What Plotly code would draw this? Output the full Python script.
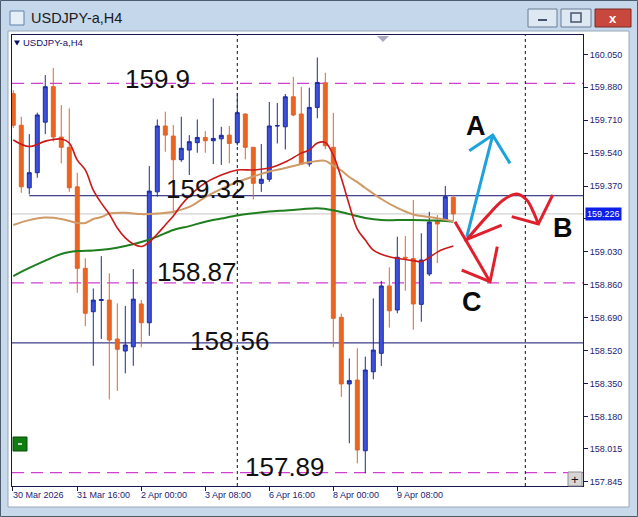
import plotly.graph_objects as go

# ---------------- data ----------------
bar = list(range(56))
opens = [159.847, 159.684, 159.361, 159.439, 159.700, 159.883, 159.623, 159.570, 159.366, 158.945,
         158.721, 158.779, 158.781, 158.580, 158.518, 158.540, 158.761, 158.664, 159.340, 159.680,
         159.628, 159.506, 159.556, 159.594, 159.621, 159.604, 159.614, 159.633, 159.594, 159.742,
         159.570, 159.384, 159.405, 159.680, 159.676, 159.831, 159.742, 159.484, 159.776, 159.903,
         159.570, 158.692, 158.348, 158.368, 158.003, 158.411, 158.506, 158.854, 158.730, 159.002,
         158.996, 158.759, 158.916, 159.191, 159.194, 159.312]
highs = [159.865, 159.728, 159.638, 159.749, 159.943, 159.979, 159.788, 159.771, 159.439, 158.997,
         158.841, 159.008, 158.919, 158.764, 158.751, 158.941, 158.781, 159.473, 159.714, 159.754,
         159.685, 159.728, 159.633, 159.714, 159.654, 159.823, 159.676, 159.680, 159.849, 159.745,
         159.572, 159.587, 159.804, 159.799, 159.845, 159.934, 159.883, 159.878, 160.034, 159.955,
         159.748, 158.711, 158.480, 158.532, 158.489, 158.790, 158.880, 158.950, 159.108, 159.112,
         159.298, 159.126, 159.237, 159.220, 159.370, 159.324]
lows = [159.670, 159.335, 159.327, 159.413, 159.638, 159.600, 159.487, 159.340, 158.819, 158.647,
        158.442, 158.580, 158.268, 158.312, 158.403, 158.442, 158.537, 158.597, 159.315, 159.547,
        159.229, 159.495, 159.427, 159.542, 159.542, 159.484, 159.479, 159.487, 159.580, 159.508,
        159.301, 159.340, 159.392, 159.590, 159.559, 159.730, 159.480, 159.470, 159.720, 159.560,
        158.537, 158.281, 158.042, 157.938, 157.887, 158.372, 158.441, 158.639, 158.713, 158.830,
        158.628, 158.669, 158.905, 158.972, 159.186, 159.190]
closes = [159.684, 159.366, 159.439, 159.737, 159.883, 159.623, 159.570, 159.361, 158.945, 158.713,
          158.781, 158.784, 158.575, 158.527, 158.549, 158.786, 158.664, 159.344, 159.680, 159.633,
          159.506, 159.565, 159.599, 159.621, 159.604, 159.616, 159.632, 159.590, 159.749, 159.570,
          159.384, 159.405, 159.680, 159.682, 159.831, 159.737, 159.484, 159.776, 159.905, 159.578,
          158.687, 158.348, 158.365, 158.007, 158.420, 158.523, 158.854, 158.726, 159.002, 158.998,
          158.761, 158.988, 159.184, 159.174, 159.315, 159.226]

red_ma_bar = [0, 2, 4, 6, 7, 8, 9, 10, 11, 12, 13, 14, 15, 16, 17, 18, 19, 20, 21, 22, 24, 26, 28, 30,
              32, 34, 36, 37, 38, 39, 40, 41, 42, 43, 44, 45, 46, 47, 48, 50, 51, 52, 53, 54, 55]
red_ma = [159.608, 159.574, 159.602, 159.613, 159.592, 159.504, 159.453, 159.349, 159.282, 159.225,
          159.153, 159.102, 159.071, 159.058, 159.081, 159.122, 159.169, 159.215, 159.272, 159.318,
          159.386, 159.427, 159.453, 159.453, 159.463, 159.494, 159.540, 159.556, 159.592, 159.595,
          159.530, 159.411, 159.272, 159.148, 159.091, 159.039, 159.018, 159.005, 158.997, 158.985,
          158.980, 159.001, 159.029, 159.047, 159.060]
tan_ma_bar = [0, 2, 4, 6, 8, 9, 10, 11, 12, 14, 16, 18, 20, 22, 24, 26, 28, 30, 32, 34, 36, 38, 39,
              40, 41, 42, 43, 44, 46, 48, 50, 52, 54, 55]
tan_ma = [159.169, 159.194, 159.207, 159.200, 159.179, 159.179, 159.200, 159.210, 159.228, 159.232,
          159.225, 159.228, 159.237, 159.262, 159.313, 159.355, 159.391, 159.419, 159.445, 159.463,
          159.484, 159.499, 159.500, 159.475, 159.450, 159.417, 159.390, 159.360, 159.303, 159.257,
          159.223, 159.210, 159.196, 159.188]
green_ma_bar = [0, 2, 4, 6, 8, 10, 12, 14, 16, 18, 20, 22, 24, 26, 28, 30, 32, 34, 36, 38, 40, 42,
                44, 46, 48, 50, 52, 54, 55]
green_ma = [158.905, 158.947, 158.985, 159.019, 159.034, 159.037, 159.045, 159.060, 159.081, 159.109,
            159.143, 159.163, 159.186, 159.202, 159.218, 159.229, 159.238, 159.244, 159.250, 159.255,
            159.245, 159.225, 159.205, 159.194, 159.194, 159.194, 159.192, 159.190, 159.186]

current_price = 159.226

y_tick_vals = [160.050, 159.880, 159.710, 159.540, 159.370, 159.200, 159.030, 158.860,
               158.690, 158.520, 158.350, 158.180, 158.015, 157.845]
x_tick_bars = [8, 16, 24, 32, 40, 48]
x_tick_labels = ["31 Mar 16:00", "2 Apr 00:00", "3 Apr 08:00", "6 Apr 16:00", "8 Apr 00:00", "9 Apr 08:00"]
first_label = "30 Mar 2026"

dashed_levels = [159.9, 158.87, 157.89]
solid_levels = [159.32, 158.56]
level_texts = ["159.9", "159.32", "158.87", "158.56", "157.89"]
scenario_letters = ["A", "B", "C"]
vline_bars = [28, 64]

# ---------------- layout geometry ----------------
W, H = 638, 517
ML, MR, MT, MB = 12, 55, 35, 31
PW, PH = W - ML - MR, H - MT - MB
X_RANGE = [-0.16, 71.21]
Y_RANGE = [157.821, 160.150]


def PX(px):
    return (px - ML) / PW


def PY(py):
    return (H - MB - py) / PH


NAVY = "#1c1c72"
MAGENTA = "#d040d0"
FONT = "Liberation Sans"

fig = go.Figure()

fig.add_trace(go.Candlestick(
    x=bar, open=opens, high=highs, low=lows, close=closes,
    increasing=dict(fillcolor="#3c50dc", line=dict(color="#1c2a9c", width=1)),
    decreasing=dict(fillcolor="#ec6420", line=dict(color="#e0642a", width=1)),
    whiskerwidth=0, hoverinfo="skip", showlegend=False,
))

fig.add_trace(go.Scatter(x=green_ma_bar, y=green_ma, mode="lines", line=dict(color="#1f7f1f", width=2, shape="spline"),
                         hoverinfo="skip", showlegend=False))
fig.add_trace(go.Scatter(x=tan_ma_bar, y=tan_ma, mode="lines", line=dict(color="#cf9a66", width=2, shape="spline"),
                         hoverinfo="skip", showlegend=False))
fig.add_trace(go.Scatter(x=red_ma_bar, y=red_ma, mode="lines", line=dict(color="#cc1818", width=1.6, shape="spline"),
                         hoverinfo="skip", showlegend=False))

# hand-drawn scenario arrows (bar index, price)
RED = "#e0202c"
BLUE = "#1ea2dc"
strokes = [
    (BLUE, [56.68, 59.93], [159.108, 159.633], "linear"),
    (BLUE, [57.0, 59.93, 62.09], [159.552, 159.633, 159.487], "linear"),
    (RED, [55.21, 59.59], [159.186, 158.876], "linear"),
    (RED, [56.05, 59.59, 60.5], [158.936, 158.876, 159.057], "linear"),
    (RED, [56.46, 59.18, 61.25, 62.93, 64.18, 65.0, 65.63],
     [159.082, 159.212, 159.298, 159.329, 159.298, 159.237, 159.174], "spline"),
    (RED, [62.3, 65.63, 67.43], [159.212, 159.174, 159.324], "linear"),
    (RED, [56.46, 61.05], [159.091, 159.168], "linear"),
]
for col, xs, ys, shp in strokes:
    fig.add_trace(go.Scatter(x=xs, y=ys, mode="lines", line=dict(color=col, width=3, shape=shp),
                             hoverinfo="skip", showlegend=False))

shapes = []
# window chrome
shapes.append(dict(type="rect", xref="paper", yref="paper", x0=PX(0), x1=PX(W), y0=PY(0), y1=PY(30),
                   fillcolor="#c4d7eb", line=dict(width=0), layer="below"))
shapes.append(dict(type="rect", xref="paper", yref="paper", x0=PX(8), x1=PX(629), y0=PY(31), y1=PY(507),
                   fillcolor="white", line=dict(color="#97a7b8", width=1), layer="below"))
shapes.append(dict(type="rect", xref="paper", yref="paper", x0=PX(0.5), x1=PX(W - 0.5), y0=PY(0.5), y1=PY(H - 0.5),
                   fillcolor="rgba(0,0,0,0)", line=dict(color="#4d5d6e", width=1), layer="above"))
# bid line
shapes.append(dict(type="line", xref="paper", yref="y", x0=0, x1=1, y0=current_price, y1=current_price,
                   line=dict(color="#c6c6c6", width=1), layer="below"))
for lv in dashed_levels:
    shapes.append(dict(type="line", xref="paper", yref="y", x0=0, x1=1, y0=lv, y1=lv,
                       line=dict(color=MAGENTA, width=1.2, dash="12px,7px"), layer="below"))
shapes.append(dict(type="line", xref="x", yref="y", x0=2, x1=X_RANGE[1], y0=solid_levels[0], y1=solid_levels[0],
                   line=dict(color="#101070", width=1), layer="below"))
shapes.append(dict(type="line", xref="paper", yref="y", x0=0, x1=1, y0=solid_levels[1], y1=solid_levels[1],
                   line=dict(color="#101070", width=1), layer="below"))
for vb in vline_bars:
    shapes.append(dict(type="line", xref="x", yref="paper", x0=vb, x1=vb, y0=0, y1=1,
                       line=dict(color="#101010", width=1, dash="3px,3px"), layer="below"))

# title bar icon & buttons
shapes.append(dict(type="rect", xref="paper", yref="paper", x0=PX(10), x1=PX(24), y0=PY(11), y1=PY(25),
                   fillcolor="#e6eef6", line=dict(color="#5f82aa", width=1), layer="above"))
shapes.append(dict(type="rect", xref="paper", yref="paper", x0=PX(528), x1=PX(557), y0=PY(9), y1=PY(27),
                   fillcolor="#dde8f3", line=dict(color="#6b7d92", width=1), layer="above"))
shapes.append(dict(type="rect", xref="paper", yref="paper", x0=PX(538), x1=PX(547), y0=PY(19), y1=PY(21),
                   fillcolor="#44546a", line=dict(width=0), layer="above"))
shapes.append(dict(type="rect", xref="paper", yref="paper", x0=PX(561), x1=PX(591), y0=PY(9), y1=PY(27),
                   fillcolor="#dde8f3", line=dict(color="#6b7d92", width=1), layer="above"))
shapes.append(dict(type="rect", xref="paper", yref="paper", x0=PX(571), x1=PX(581), y0=PY(13), y1=PY(22),
                   fillcolor="rgba(0,0,0,0)", line=dict(color="#44546a", width=1.5), layer="above"))
shapes.append(dict(type="rect", xref="paper", yref="paper", x0=PX(595), x1=PX(631), y0=PY(9), y1=PY(27),
                   fillcolor="#c9483e", line=dict(color="#7a2a22", width=1), layer="above"))
# chart shift marker
shapes.append(dict(type="path", xref="paper", yref="paper",
                   path=f"M {PX(377)},{PY(36)} L {PX(389)},{PY(36)} L {PX(383)},{PY(42)} Z",
                   fillcolor="#a9a9c2", line=dict(width=0), layer="above"))
# small triangle before the symbol label
shapes.append(dict(type="path", xref="paper", yref="paper",
                   path=f"M {PX(14)},{PY(40.5)} L {PX(20)},{PY(40.5)} L {PX(17)},{PY(45.5)} Z",
                   fillcolor="#10106a", line=dict(width=0), layer="above"))
# green button and + box
shapes.append(dict(type="rect", xref="paper", yref="paper", x0=PX(13), x1=PX(27), y0=PY(437), y1=PY(451),
                   fillcolor="#117c11", line=dict(color="#0a4c0a", width=1), layer="above"))
shapes.append(dict(type="line", xref="paper", yref="paper", x0=PX(18), x1=PX(22), y0=PY(444), y1=PY(444),
                   line=dict(color="white", width=1.5), layer="above"))
shapes.append(dict(type="rect", xref="paper", yref="paper", x0=PX(568), x1=PX(582), y0=PY(472), y1=PY(486),
                   fillcolor="#d6d6d6", line=dict(color="#8e8e8e", width=1), layer="above"))

ann = []
ann.append(dict(xref="paper", yref="paper", x=PX(29), y=PY(18), xanchor="left", yanchor="middle",
                text="USDJPY-a,H4", showarrow=False, font=dict(family=FONT, size=14.5, color="#1a1a1a")))
ann.append(dict(xref="paper", yref="paper", x=PX(613), y=PY(18), xanchor="center", yanchor="middle",
                text="<b>x</b>", showarrow=False, font=dict(family=FONT, size=13, color="white")))
ann.append(dict(xref="paper", yref="paper", x=PX(21), y=PY(43), xanchor="left", yanchor="middle",
                text="USDJPY-a,H4", showarrow=False, font=dict(family=FONT, size=9.5, color="#10106a")))
ann.append(dict(xref="paper", yref="paper", x=PX(575), y=PY(479), xanchor="center", yanchor="middle",
                text="+", showarrow=False, font=dict(family=FONT, size=13, color="#111111")))
# x labels (left-aligned at their ticks, MT4 style)
ann.append(dict(xref="x", yref="paper", x=X_RANGE[0], y=PY(495), xanchor="left", yanchor="middle", xshift=-1,
                text=first_label, showarrow=False, font=dict(family=FONT, size=9, color=NAVY)))
for tb, tl in zip(x_tick_bars, x_tick_labels):
    ann.append(dict(xref="x", yref="paper", x=tb, y=PY(495), xanchor="left", yanchor="middle", xshift=-2,
                    text=tl, showarrow=False, font=dict(family=FONT, size=9, color=NAVY)))
# level text labels
label_pos = [(13.96, 159.922), (19.09, 159.355), (17.96, 158.926), (22.09, 158.570), (28.96, 157.919)]
for (lx, ly), t in zip(label_pos, level_texts):
    ann.append(dict(xref="x", yref="y", x=lx, y=ly, xanchor="left", yanchor="middle", xshift=-2,
                    text=t, showarrow=False, font=dict(family=FONT, size=26, color="#111111")))
# scenario letters
letter_pos = [(57.84, 159.680), (68.71, 159.153), (57.34, 158.771)]
for (lx, ly), t in zip(letter_pos, scenario_letters):
    ann.append(dict(xref="x", yref="y", x=lx, y=ly, xanchor="center", yanchor="middle",
                    text=f"<b>{t}</b>", showarrow=False, font=dict(family=FONT, size=27, color="#0a0a0a")))
# current price box (it covers the 159.200 scale label, as in MT4)
ann.append(dict(xref="paper", yref="y", x=1, y=current_price, xanchor="left", yanchor="middle", xshift=2,
                text=f"{current_price:.3f}", showarrow=False, bgcolor="#0c1ee8", borderpad=1,
                font=dict(family=FONT, size=9, color="white")))

y_tick_text = ["" if abs(v - 159.200) < 1e-9 else f"{v:.3f}" for v in y_tick_vals]

fig.update_layout(
    width=W, height=H, margin=dict(l=ML, r=MR, t=MT, b=MB, pad=0),
    paper_bgcolor="#c8d9eb", plot_bgcolor="white",
    shapes=shapes, annotations=ann, showlegend=False,
    xaxis=dict(range=X_RANGE, showgrid=False, zeroline=False, showline=True, mirror=True,
               linecolor="#181850", linewidth=1, ticks="outside", ticklen=4, tickcolor="#181850",
               tickvals=[X_RANGE[0]] + x_tick_bars, showticklabels=False,
               rangeslider=dict(visible=False), fixedrange=True),
    yaxis=dict(range=Y_RANGE, side="right", showgrid=False, zeroline=False, showline=True, mirror=True,
               linecolor="#181850", linewidth=1, ticks="outside", ticklen=4, tickcolor="#181850",
               tickvals=y_tick_vals, ticktext=y_tick_text,
               tickfont=dict(family=FONT, size=9, color=NAVY), fixedrange=True),
)

fig.write_html("out.html", config={"displayModeBar": False},
               post_script="document.body.style.margin='0';document.body.style.overflow='hidden';")
